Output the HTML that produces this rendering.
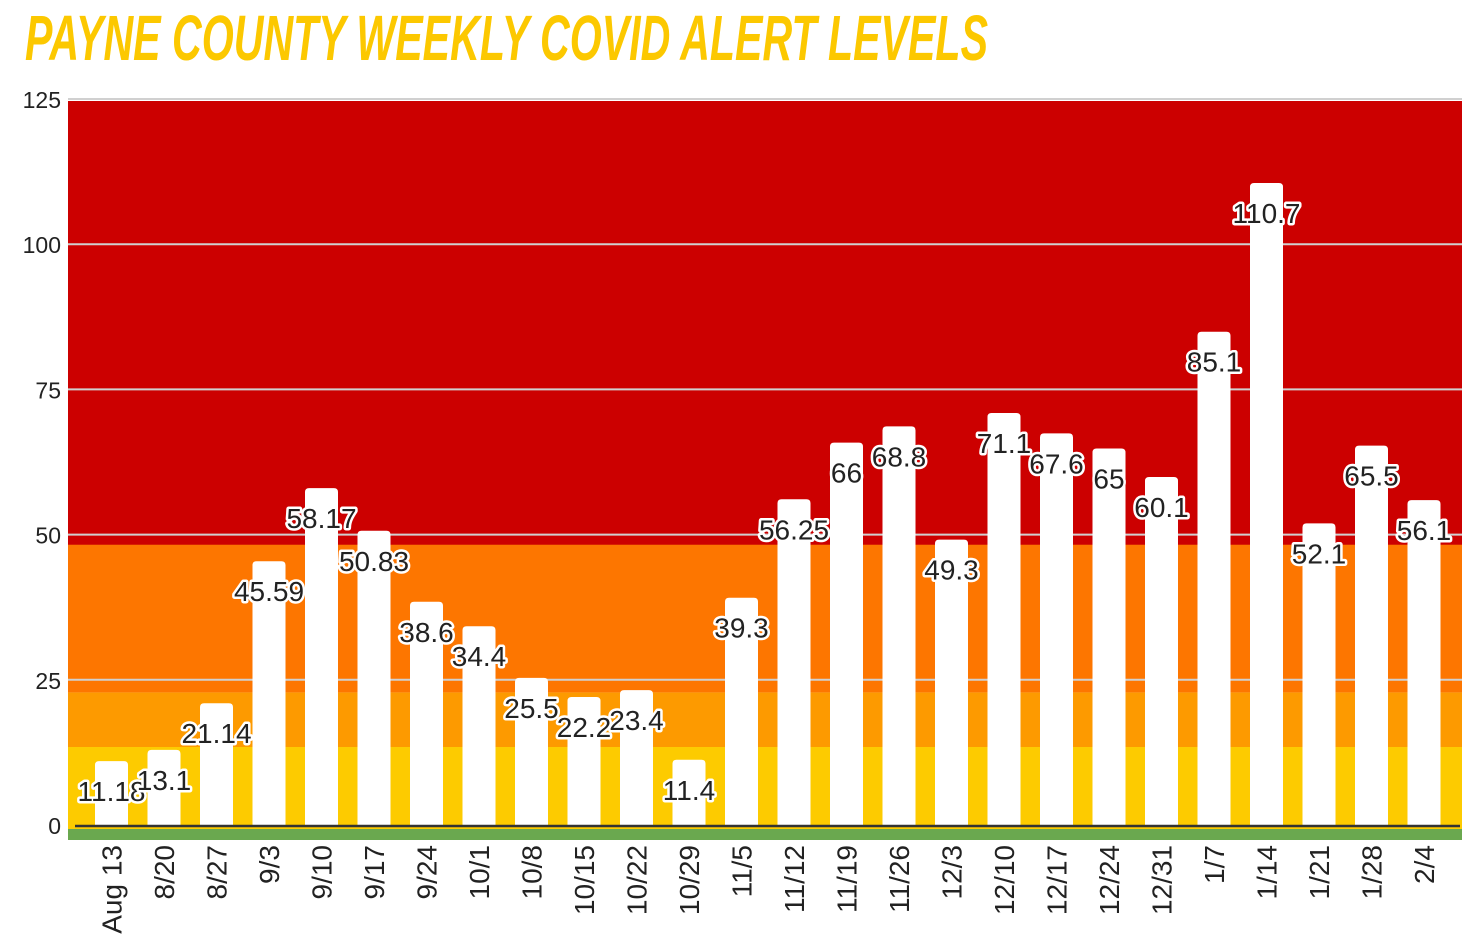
<!DOCTYPE html>
<html><head><meta charset="utf-8"><style>
html,body{margin:0;padding:0;background:#fff;}
svg{display:block;font-family:"Liberation Sans",sans-serif;}
</style></head><body>
<svg id="chart" width="1479" height="946" viewBox="0 0 1479 946" xmlns="http://www.w3.org/2000/svg">
<text x="25" y="60" font-size="64" font-weight="bold" font-style="italic" fill="#fcc800" textLength="963" lengthAdjust="spacingAndGlyphs">PAYNE COUNTY WEEKLY COVID ALERT LEVELS</text>
<g id="bands"></g>
<g id="grid"></g>
<g id="bars"></g>
<g id="labels"></g>
<g id="xlabels"></g>
<g id="ylabels"></g>
</svg>
<script>
const categories=["Aug 13","8/20","8/27","9/3","9/10","9/17","9/24","10/1","10/8","10/15","10/22","10/29","11/5","11/12","11/19","11/26","12/3","12/10","12/17","12/24","12/31","1/7","1/14","1/21","1/28","2/4"];
const values=[11.18,13.1,21.14,45.59,58.17,50.83,38.6,34.4,25.5,22.2,23.4,11.4,39.3,56.25,66,68.8,49.3,71.1,67.6,65,60.1,85.1,110.7,52.1,65.5,56.1];
const valueLabels=["11.18","13.1","21.14","45.59","58.17","50.83","38.6","34.4","25.5","22.2","23.4","11.4","39.3","56.25","66","68.8","49.3","71.1","67.6","65","60.1","85.1","110.7","52.1","65.5","56.1"];
const yTicks=[0,25,50,75,100,125];
const bandEdges=[0,13.6,23,48.6,125];
const bandColors=["#fdcb00","#fd9a00","#fd7600","#cc0000"];
const NS="http://www.w3.org/2000/svg";
const X0=68,X1=1462,Y0=826,Y1=100,YMAX=125;
const y=v=>Y0-(v/YMAX)*(Y0-Y1);
const step=52.5,first=111.5,bw=33;
const xc=i=>first+i*step;
function mk(t,a,p){const e=document.createElementNS(NS,t);for(const k in a)e.setAttribute(k,a[k]);p.appendChild(e);return e;}
const bands=document.getElementById('bands');
for(let i=0;i<bandColors.length;i++){
  const r=mk('rect',{x:X0,y:y(bandEdges[i+1])+(i==3?1:0),width:X1-X0,height:y(bandEdges[i])-y(bandEdges[i+1])+(i==0?4:0),fill:bandColors[i]},bands);
  
  
}
const green=mk('rect',{x:X0,y:829,width:X1-X0,height:11,fill:'#6aa84f'},bands);


const grid=document.getElementById('grid'),yl=document.getElementById('ylabels');
yTicks.forEach(t=>{
  if(t>0){const l=mk('line',{x1:X0,x2:X1,y1:y(t)-1,y2:y(t)-1,stroke:'#d0d0d0','stroke-width':2},grid);
  
  }
  const tx=mk('text',{x:61,y:y(t)+8,'text-anchor':'end','font-size':23,fill:'#222'},yl);
  tx.textContent=t;
  
  
});
const bars=document.getElementById('bars'),lab=document.getElementById('labels'),xl=document.getElementById('xlabels');
values.forEach((v,i)=>{
  const top=y(v),cx=xc(i);
  const b=mk('path',{d:`M${cx-bw/2},${Y0} V${top+4} Q${cx-bw/2},${top} ${cx-bw/2+4},${top} H${cx+bw/2-4} Q${cx+bw/2},${top} ${cx+bw/2},${top+4} V${Y0} Z`,fill:'#fff'},bars);
  
  
  const t=mk('text',{x:cx,y:top+40,'text-anchor':'middle','font-size':28,fill:'#222',stroke:'#fff','stroke-width':5,'paint-order':'stroke','stroke-linejoin':'round'},lab);
  t.textContent=valueLabels[i];
  
  
  const xt=mk('text',{transform:`translate(${cx+10},845) rotate(-90)`,'text-anchor':'end','font-size':28,fill:'#222'},xl);
  xt.textContent=categories[i];
  
  
});
const ax=mk('line',{x1:75,x2:1460,y1:Y0,y2:Y0,stroke:'#333','stroke-width':2.5},bars);


</script>
</body></html>
